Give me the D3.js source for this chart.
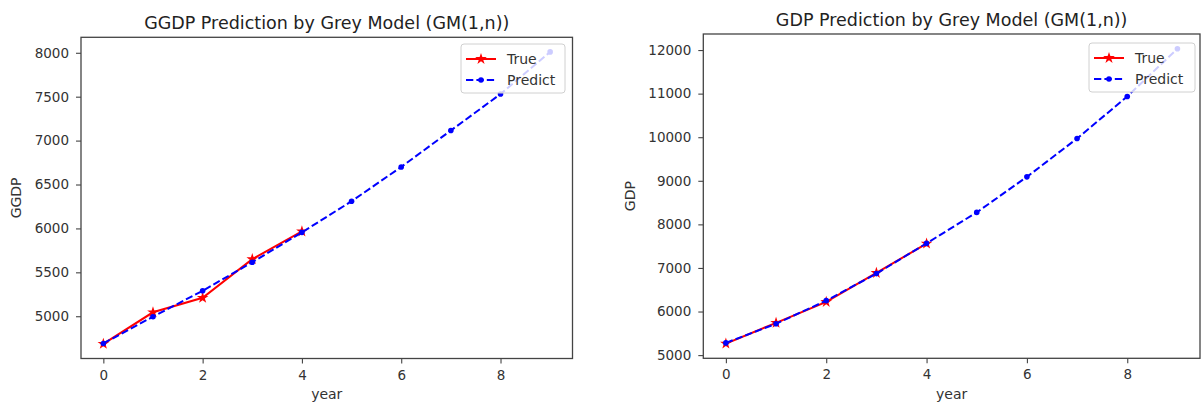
<!DOCTYPE html>
<html><head><meta charset="utf-8">
<script src="https://cdn.jsdelivr.net/npm/d3@7"></script>
<style>
body{margin:0;background:#fff;}
svg{display:block;font-family:"DejaVu Sans",sans-serif;}
</style></head>
<body><svg id="c" width="1203" height="406"></svg>
<script>
const years = [0,1,2,3,4,5,6,7,8,9];
const xTicks = [0,2,4,6,8];

const ggdpTrue = [4685, 5045, 5210, 5650, 5965];
const ggdpPredict = [4690, 4995, 5290, 5615, 5955, 6310, 6700, 7115, 7530, 8010];
const ggdpTicks = [5000,5500,6000,6500,7000,7500,8000];

const gdpTrue = [5265, 5740, 6220, 6885, 7560];
const gdpPredict = [5280, 5720, 6250, 6870, 7565, 8275, 9090, 9970, 10935, 12030];
const gdpTicks = [5000,6000,7000,8000,9000,10000,11000,12000];

const titles = ["GGDP Prediction by Grey Model (GM(1,n))", "GDP Prediction by Grey Model (GM(1,n))"];
const yLabels = ["GGDP", "GDP"];
const xLabel = "year";
const legendLabels = ["True", "Predict"];

const svg = d3.select("#c");

function panel(cfg){
  const {left,right,top,bottom,trueV,predV,yTicks,title,ylab,ylabX,leg} = cfg;
  const x = d3.scaleLinear().domain([-0.45, 9.45]).range([left,right]);
  const all = trueV.concat(predV);
  const [mn,mx] = d3.extent(all);
  const pad = (mx-mn)*0.05;
  const y = d3.scaleLinear().domain([mn-pad, mx+pad]).range([bottom, top]);
  const g = svg.append("g");

  const xa = g.append("g").attr("transform",`translate(0,${bottom})`)
    .call(d3.axisBottom(x).tickValues(xTicks).tickSize(5).tickPadding(4).tickFormat(d3.format("d")));
  const ya = g.append("g").attr("transform",`translate(${left},0)`)
    .call(d3.axisLeft(y).tickValues(yTicks).tickSize(5).tickPadding(7).tickFormat(d3.format("d")));
  [xa,ya].forEach(a=>{
    a.select(".domain").remove();
    a.selectAll(".tick line").attr("stroke","#444").attr("stroke-width",1.1);
    a.selectAll(".tick text").attr("fill","#333").attr("font-size",13.5).attr("font-family","DejaVu Sans");
  });
  xa.selectAll(".tick text").attr("dy","0.9em");

  const lineT = d3.line().x((d,i)=>x(years[i])).y(d=>y(d));
  g.append("path").datum(trueV).attr("d",lineT).attr("fill","none")
    .attr("stroke","#ff0000").attr("stroke-width",2);
  const star = d3.symbol().type(d3.symbolStar).size(42);
  g.selectAll(".st").data(trueV).join("path").attr("d",star)
    .attr("transform",(d,i)=>`translate(${x(years[i])},${y(d)})`).attr("fill","#ff0000");

  g.append("path").datum(predV).attr("d",lineT).attr("fill","none")
    .attr("stroke","#0000ff").attr("stroke-width",2).attr("stroke-dasharray","7.3,3.1");
  g.selectAll(".pt").data(predV).join("circle")
    .attr("cx",(d,i)=>x(years[i])).attr("cy",d=>y(d)).attr("r",2.8).attr("fill","#0000ff");

  g.append("rect").attr("x",left).attr("y",top).attr("width",right-left).attr("height",bottom-top)
    .attr("fill","none").attr("stroke","#444").attr("stroke-width",1.3);

  g.append("text").attr("x",(left+right)/2).attr("y",top-8).attr("text-anchor","middle")
    .attr("font-size",17.5).attr("fill","#222").text(title);
  g.append("text").attr("x",(left+right)/2).attr("y",399).attr("text-anchor","middle")
    .attr("font-size",14).attr("fill","#333").text(xLabel);
  g.append("text").attr("transform",`translate(${ylabX},${(top+bottom)/2}) rotate(-90)`)
    .attr("text-anchor","middle").attr("font-size",14).attr("fill","#333").text(ylab);

  const lg = g.append("g");
  lg.append("rect").attr("x",leg.x).attr("y",leg.y).attr("width",leg.w).attr("height",49)
    .attr("rx",3).attr("fill","#fff").attr("fill-opacity",0.8).attr("stroke","#d0d0d0");
  const hx0 = leg.x+5, hx1 = leg.x+35, tx = leg.x+46;
  const y1 = leg.y+15, y2 = leg.y+36;
  lg.append("line").attr("x1",hx0).attr("x2",hx1).attr("y1",y1).attr("y2",y1)
    .attr("stroke","#ff0000").attr("stroke-width",2);
  lg.append("path").attr("d",star).attr("transform",`translate(${(hx0+hx1)/2},${y1})`).attr("fill","#ff0000");
  lg.append("line").attr("x1",hx0).attr("x2",hx1).attr("y1",y2).attr("y2",y2)
    .attr("stroke","#0000ff").attr("stroke-width",2).attr("stroke-dasharray","7.3,3.1");
  lg.append("circle").attr("cx",(hx0+hx1)/2).attr("cy",y2).attr("r",2.8).attr("fill","#0000ff");
  lg.append("text").attr("x",tx).attr("y",y1).attr("dy","0.35em").attr("font-size",14).attr("fill","#333").text(legendLabels[0]);
  lg.append("text").attr("x",tx).attr("y",y2).attr("dy","0.35em").attr("font-size",14).attr("fill","#333").text(legendLabels[1]);
}

panel({left:81,right:572.5,top:37.3,bottom:358.5,trueV:ggdpTrue,predV:ggdpPredict,yTicks:ggdpTicks,
  title:titles[0],ylab:yLabels[0],ylabX:21,leg:{x:461,y:44,w:104}});
panel({left:703.3,right:1200,top:34,bottom:358.3,trueV:gdpTrue,predV:gdpPredict,yTicks:gdpTicks,
  title:titles[1],ylab:yLabels[1],ylabX:635,leg:{x:1089,y:43,w:106}});
</script></body></html>
